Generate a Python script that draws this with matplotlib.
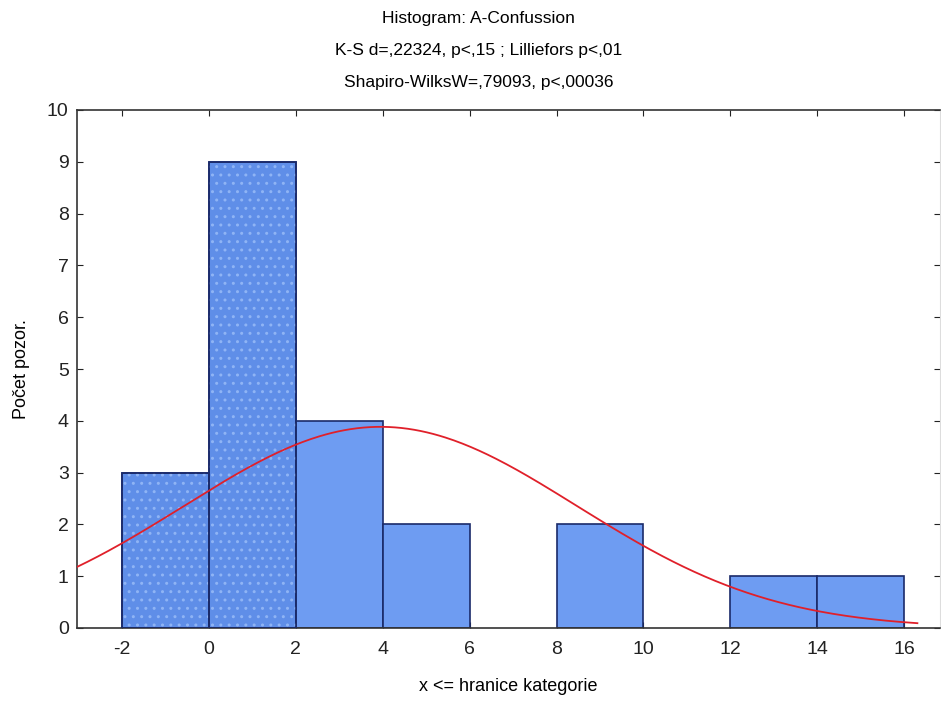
import numpy as np
import matplotlib
matplotlib.use("Agg")
import matplotlib.pyplot as plt

plt.rcParams['font.family'] = ['Liberation Sans', 'DejaVu Sans']
plt.rcParams['axes.unicode_minus'] = False

bin_edges = [-2, 0, 2, 4, 6, 8, 10, 12, 14, 16]
counts = [3, 9, 4, 2, 0, 2, 0, 1, 1]
textured = [True, True, False, False, False, False, False, False, False]
n_obs = 22
fit_mean = 3.95
fit_sd = 4.52
x_ticks = [-2, 0, 2, 4, 6, 8, 10, 12, 14, 16]
y_ticks = [0, 1, 2, 3, 4, 5, 6, 7, 8, 9, 10]
titles = ["Histogram: A-Confussion",
          "K-S d=,22324, p<,15 ; Lilliefors p<,01",
          "Shapiro-WilksW=,79093, p<,00036"]

fig = plt.figure(figsize=(9.41, 7.09), dpi=100)
ax = fig.add_axes([77/941, 1-628/709, 863/941, 518/709])

lefts = bin_edges[:-1]
widths = np.diff(bin_edges)
for l, w, c, t in zip(lefts, widths, counts, textured):
    if c == 0:
        continue
    face = '#5f8ee8' if t else '#6e9cf2'
    ax.bar(l, c, width=w, align='edge', color=face, edgecolor='#1a2a6a', linewidth=1.2, zorder=2)
    if t:
        ax.bar(l, c, width=w, align='edge', color='none', edgecolor='#8fb4f5', hatch='..', linewidth=0, zorder=2.5)
        ax.bar(l, c, width=w, align='edge', color='none', edgecolor='#1a2a6a', linewidth=1.2, zorder=2.6)

bw = bin_edges[1] - bin_edges[0]
xs = np.linspace(-3.03, 16.3, 400)
ys = n_obs * bw / (fit_sd * np.sqrt(2 * np.pi)) * np.exp(-(xs - fit_mean) ** 2 / (2 * fit_sd ** 2))
ax.plot(xs, ys, color='#e0202a', linewidth=1.3, zorder=3)

ax.set_xlim(-3.03, 16.82)
ax.set_ylim(0, 10)
ax.set_xticks(x_ticks)
ax.set_yticks(y_ticks)
ax.tick_params(axis='both', direction='in', length=4, labelsize=14, colors='#222222', top=True, right=True)
ax.tick_params(axis='x', pad=9)
ax.tick_params(axis='y', pad=6)
for s in ['left', 'bottom', 'top']:
    ax.spines[s].set_color('#333333')
    ax.spines[s].set_linewidth(1.2)
ax.spines['right'].set_color('#dddddd')

ax.set_xlabel("x <= hranice kategorie", fontsize=13, labelpad=15)
ax.set_ylabel("Počet pozor.", fontsize=13, labelpad=12)

for i, t in enumerate(titles):
    fig.text(0.5 + 8/941, 1 - (19 + 31.5 * i) / 709, t, ha='center', va='center', fontsize=12.5)

fig.savefig("out.png", dpi=100)
